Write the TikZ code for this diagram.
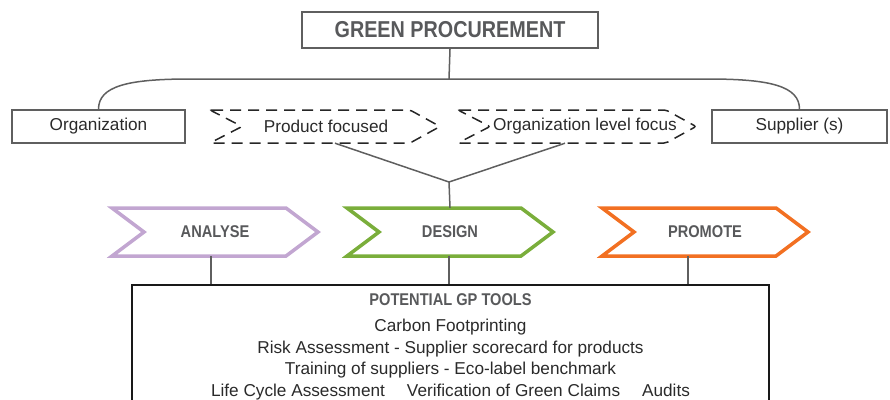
\documentclass[tikz,border=0pt]{standalone}
\usepackage{fontspec}
\setmainfont{Liberation Sans}
\newfontfamily\headfont{Liberation Sans}[FakeStretch=0.86]
\usetikzlibrary{calc,positioning}

\definecolor{linegray}{HTML}{5F5F5F}
\definecolor{headgray}{HTML}{58595B}
\definecolor{textgray}{HTML}{2A2A2A}
\definecolor{analysecol}{HTML}{C2A6D1}
\definecolor{designcol}{HTML}{7AAE3B}
\definecolor{promotecol}{HTML}{F27022}

\tikzset{
  box/.style={draw=linegray, line width=1.5, minimum height=33, inner sep=0,
    text=textgray, font=\fontsize{17.2}{20}\selectfont},
  headtext/.style={text=headgray, font=\headfont\bfseries\fontsize{17}{20}\selectfont},
  link/.style={draw=linegray, line width=1.5},
  focusline/.style={draw=black!85, line width=1.5, dash pattern=on 11pt off 7pt, rounded corners=2pt},
  stageline/.style={line width=3.5, line join=miter, fill=white},
}

\begin{document}
\begin{tikzpicture}[x=1pt, y=-1pt]
    \useasboundingbox (0,0) rectangle (890,399);
    \clip (0,0) rectangle (890,399);

    % Top of the tree
    \node[box, minimum width=296, minimum height=36, line width=2,
          headtext, font=\headfont\bfseries\fontsize{23}{24}\selectfont] (title) at (450,30) {GREEN PROCUREMENT};
    \node[box, minimum width=173] (org) at (98.5,126.5) {Organization};
    \node[box, minimum width=175] (sup) at (799.5,126.5) {Supplier (s)};

    \coordinate (fork) at (449,79);
    \draw[link] (title.south) -- (fork);
    \draw[link] (org.north) .. controls (98.5,86) and (128,79) .. (190,79)
        -- (708,79) .. controls (770,79) and (799.5,86) .. (sup.north);

    % Dashed focus arrows
    \foreach \nm/\xl/\xr/\tx/\lbl in {%
        prod/210/410/326/{Product focused},%
        orglevel/458/666/585/{Organization level focus}%
    } {
        \draw[focusline] (\xl,110) -- (\xr,110) -- (\xr+30,126.5) -- (\xr,143)
            -- (\xl,143) -- (\xl+32,126.5) -- cycle;
        \node[text=textgray, font=\fontsize{17.2}{20}\selectfont] at (\tx,126.5) {\lbl};
        \node[minimum width=\xr-\xl+30, minimum height=33, inner sep=0] (\nm) at ({(\xl+\xr+30)/2},126.5) {};
    }

    % Merge into the stages
    \coordinate (merge) at (449,182);
    \draw[link] ([xshift=10]prod.south) -- (merge) -- ([xshift=-12]orglevel.south);

    % Tools box
    \node[draw=black!90, line width=1.5, minimum width=637, minimum height=140,
          anchor=north, inner sep=0] (tools) at (450.5,284) {};
    \node[below=9pt of tools.north, inner sep=0, align=center, text=textgray,
          font=\fontsize{17.2}{21.4}\selectfont] (toollist) {%
        {\headfont\bfseries\fontsize{17}{21.4}\selectfont\color{headgray}POTENTIAL GP TOOLS}\\[5.5pt]
        Carbon Footprinting\\
        Risk Assessment - Supplier scorecard for products\\
        Training of suppliers - Eco-label benchmark\\
        Life Cycle Assessment\hspace{22pt}Verification of Green Claims\hspace{22pt}Audits};

    % Stage chevrons
    \foreach \nm/\xl/\col/\lbl/\off in {%
        analyse/112/analysecol/ANALYSE/-4,%
        design/347/designcol/DESIGN/-1,%
        promote/602/promotecol/PROMOTE/-17%
    } {
        \draw[stageline, draw=\col] (\xl,208) -- ++(174,0) -- ++(32,24) -- ++(-32,24)
            -- ++(-174,0) -- ++(32,-24) -- cycle;
        \node[headtext, minimum width=206, minimum height=48, inner sep=0] (\nm) at (\xl+103,232) {\lbl};
        \draw[link] ([xshift=\off]\nm.south) -- ([xshift=\off]\nm.south |- tools.north);
    }
    \draw[link] (merge) -- (design.north);
\end{tikzpicture}
\end{document}
